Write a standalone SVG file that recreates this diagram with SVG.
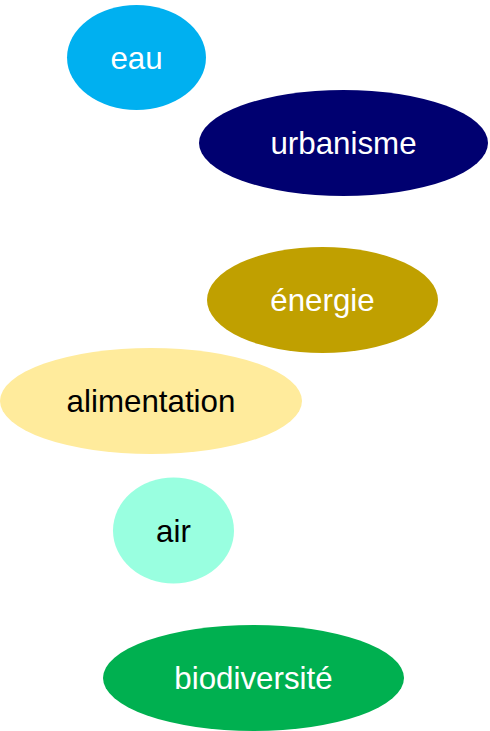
<svg xmlns="http://www.w3.org/2000/svg" width="490" height="731" viewBox="0 0 490 731">
<style>
text{font-family:"Liberation Sans",Arial,sans-serif;font-size:31.3px;text-anchor:middle}
.w{fill:#FFFFFF}.b{fill:#000000}
</style>
<rect width="490" height="731" fill="#FFFFFF"/>
<g id="connectors"></g>
<g id="eau"><ellipse cx="136.5" cy="57.5" rx="69.5" ry="52.5" fill="#00B0F0"/><text class="w" x="136.5" y="68.5">eau</text></g>
<g id="urbanisme"><ellipse cx="343.5" cy="143" rx="144.5" ry="53" fill="#000070"/><text class="w" x="343.5" y="154">urbanisme</text></g>
<g id="energie"><ellipse cx="322.5" cy="300" rx="115.5" ry="53" fill="#C0A000"/><text class="w" x="322.5" y="311">énergie</text></g>
<g id="alimentation"><ellipse cx="151" cy="401" rx="151" ry="53" fill="#FFEB9C"/><text class="b" x="151" y="412">alimentation</text></g>
<g id="air"><ellipse cx="173.5" cy="530.5" rx="60.5" ry="53" fill="#99FFE0"/><text class="b" x="173.5" y="541.5">air</text></g>
<g id="biodiversite"><ellipse cx="253.5" cy="678" rx="150.5" ry="53" fill="#00B050"/><text class="w" x="253.5" y="689">biodiversité</text></g>
</svg>
